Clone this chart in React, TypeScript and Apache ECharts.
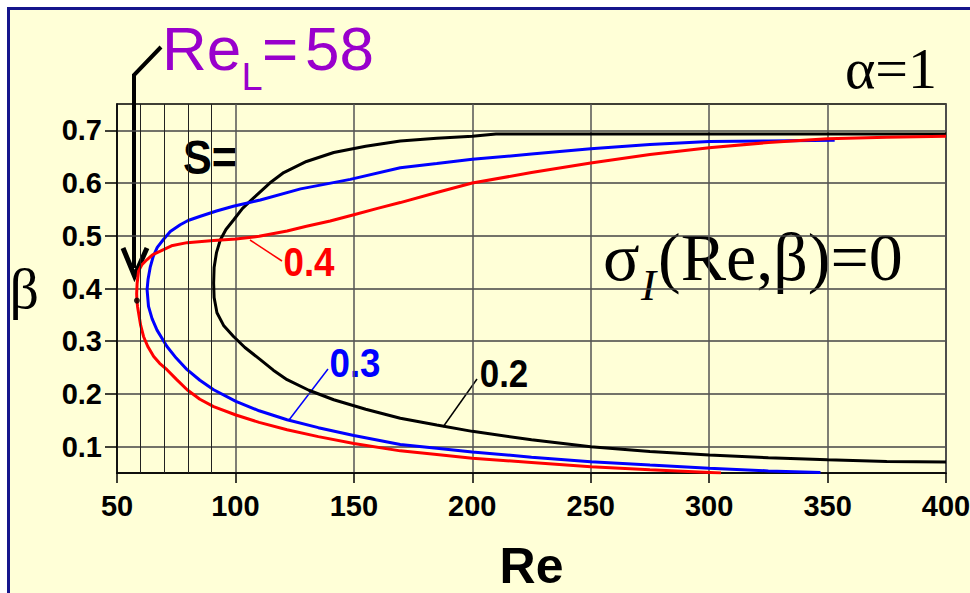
import React, { useEffect, useRef } from "react";
import * as echarts from "echarts";

// ---- axis values ----
const betaTicks = [0.1, 0.2, 0.3, 0.4, 0.5, 0.6, 0.7];
const minorGridRe = [60, 70, 80, 90];

// ---- curve S = 0.2 (black) ----
const reS02 = [400, 350, 300, 250, 210, 200, 185, 169.6, 155, 141.5, 130, 120.4, 114.5, 107.7, 103, 99.2, 96, 93.6, 92, 91, 90.8, 91, 92.2, 95, 99.2, 104, 110.5, 116, 121.8, 131, 141.5, 155, 169.6, 185, 200, 225, 250, 275, 300, 325, 350, 375, 400];
const betaS02 = [0.693, 0.693, 0.693, 0.693, 0.693, 0.689, 0.685, 0.68, 0.67, 0.658, 0.641, 0.62, 0.6, 0.572, 0.552, 0.53, 0.512, 0.492, 0.468, 0.44, 0.41, 0.383, 0.354, 0.33, 0.309, 0.288, 0.265, 0.245, 0.227, 0.207, 0.189, 0.171, 0.154, 0.141, 0.129, 0.113, 0.1, 0.091, 0.084, 0.079, 0.075, 0.072, 0.071];

// ---- curve S = 0.3 (blue) ----
const reS03 = [353, 325, 300, 275, 250, 225, 200, 185, 169.6, 148.5, 127.5, 110.5, 99.1, 92, 85.2, 80, 76.7, 72.5, 69.6, 67, 65.3, 64, 63.1, 62.7, 63.3, 64.8, 66.9, 71.1, 75, 79.6, 85, 90.8, 100.2, 110, 121.8, 135, 150, 169.6, 185, 200, 225, 250, 275, 300, 325, 347];
const betaS03 = [0.681, 0.68, 0.679, 0.673, 0.665, 0.655, 0.645, 0.637, 0.629, 0.607, 0.589, 0.568, 0.556, 0.547, 0.537, 0.529, 0.521, 0.508, 0.493, 0.478, 0.461, 0.44, 0.417, 0.398, 0.366, 0.343, 0.321, 0.29, 0.268, 0.246, 0.226, 0.208, 0.186, 0.168, 0.151, 0.136, 0.121, 0.104, 0.097, 0.09, 0.08, 0.0715, 0.065, 0.059, 0.054, 0.051];

// ---- curve S = 0.4 (red) ----
const reS04 = [400, 375, 350, 325, 300, 275, 250, 225, 200, 185, 169.6, 160, 150, 140, 130, 121.8, 110, 100.2, 90.8, 79.6, 73, 68.3, 65, 62.7, 60.5, 59.1, 58.5, 58.3, 58.4, 58.7, 59.1, 60, 61.2, 63, 65.5, 68, 71.1, 75, 79.6, 85, 90.8, 100.2, 110, 121.8, 135, 150, 169.6, 185, 200, 225, 250, 275, 305];
const betaS04 = [0.689, 0.687, 0.684, 0.677, 0.667, 0.654, 0.638, 0.62, 0.6, 0.582, 0.563, 0.552, 0.54, 0.528, 0.518, 0.509, 0.499, 0.494, 0.491, 0.487, 0.481, 0.471, 0.464, 0.455, 0.445, 0.433, 0.41, 0.39, 0.377, 0.365, 0.354, 0.33, 0.309, 0.29, 0.271, 0.258, 0.246, 0.228, 0.208, 0.19, 0.176, 0.16, 0.146, 0.132, 0.119, 0.106, 0.092, 0.085, 0.078, 0.07, 0.062, 0.056, 0.05];

// ---- critical point Re_L ----
const criticalRe = [58.4];
const criticalBeta = [0.377];

const pairs = (xs: number[], ys: number[]) => xs.map((x, i) => [x, ys[i]]);

const SANS = "Liberation Sans";
const SERIF = "Liberation Serif";

const txt = (text: string, x: number, y: number, style: any, extra: any = {}) => ({
  type: "text",
  x,
  y,
  ...extra,
  style: { text, align: "left", verticalAlign: "middle", fill: "#000", ...style },
});

const option: any = {
  animation: false,
  grid: {
    left: 117,
    top: 104,
    width: 829,
    height: 369,
    outerBoundsMode: "none",
    containLabel: false,
    show: true,
    borderColor: "#000",
    borderWidth: 1.5,
    backgroundColor: "transparent",
  },
  xAxis: {
    type: "value",
    min: 50,
    max: 400,
    interval: 50,
    axisLine: { show: true, onZero: false, lineStyle: { color: "#000", width: 1.5 } },
    axisTick: { show: true, length: 10, lineStyle: { color: "#000", width: 1.5 } },
    axisLabel: { margin: 18, color: "#000", fontFamily: SANS, fontWeight: "bold", fontSize: 29 },
    splitLine: { show: true, lineStyle: { color: "#555", width: 1.5 } },
    name: "Re",
    nameLocation: "middle",
    nameGap: 68,
    nameTextStyle: { fontFamily: SANS, fontWeight: "bold", fontSize: 50, color: "#000" },
  },
  yAxis: {
    type: "value",
    min: 0.05,
    max: 0.75,
    axisLine: { show: true, onZero: false, lineStyle: { color: "#000", width: 1.5 } },
    axisTick: { show: true, length: 12, customValues: betaTicks, lineStyle: { color: "#000", width: 1.5 } },
    axisLabel: {
      customValues: betaTicks,
      formatter: (v: number) => v.toFixed(1),
      margin: 15,
      color: "#000",
      fontFamily: SANS,
      fontWeight: "bold",
      fontSize: 29,
    },
    splitLine: { show: true, lineStyle: { color: "#444", width: 1.5 } },
    name: "β",
    nameLocation: "middle",
    nameRotate: 0,
    nameGap: 78,
    nameTextStyle: { fontFamily: SERIF, fontSize: 58, color: "#000", padding: [16, 0, 0, 0] },
  },
  series: [
    {
      type: "line",
      data: [],
      z: 1,
      silent: true,
      markLine: {
        silent: true,
        symbol: ["none", "none"],
        label: { show: false },
        lineStyle: { color: "#222", width: 1, type: "solid" },
        data: minorGridRe.map((v) => ({ xAxis: v })),
      },
    },
    {
      type: "line",
      data: pairs(reS02, betaS02),
      showSymbol: false,
      lineStyle: { color: "#000", width: 3 },
      itemStyle: { color: "#000" },
    },
    {
      type: "line",
      data: pairs(reS03, betaS03),
      showSymbol: false,
      lineStyle: { color: "#0000ff", width: 3 },
      itemStyle: { color: "#0000ff" },
    },
    {
      type: "line",
      data: pairs(reS04, betaS04),
      showSymbol: false,
      lineStyle: { color: "#ff0000", width: 3 },
      itemStyle: { color: "#ff0000" },
    },
    {
      type: "scatter",
      data: pairs(criticalRe, criticalBeta),
      symbolSize: 6,
      itemStyle: { color: "#000" },
      z: 5,
    },
  ],
  graphic: [
    // Re_L = 58 title
    txt("Re", 162, 48, { fill: "#9900cc", fontSize: 62, fontFamily: SANS }),
    txt("L", 241.5, 77, { fill: "#9900cc", fontSize: 38, fontFamily: SANS }),
    txt("=", 262, 48, { fill: "#9900cc", fontSize: 62, fontFamily: SANS }),
    txt("58", 305, 48, { fill: "#9900cc", fontSize: 62, fontFamily: SANS }),
    // alpha
    txt("α=1", 937, 68, { fontSize: 58, fontFamily: SERIF, align: "right" }),
    // S=
    txt("S=", 210, 158, { fontSize: 48, fontFamily: SANS, fontWeight: "bold", align: "center" }, { scaleX: 0.9 }),
    // curve labels
    txt("0.4", 309, 262, { fill: "#ff0000", fontSize: 40, fontFamily: SANS, fontWeight: "bold", align: "center" }, { scaleX: 0.92 }),
    txt("0.3", 355, 363, { fill: "#0000ff", fontSize: 40, fontFamily: SANS, fontWeight: "bold", align: "center" }, { scaleX: 0.92 }),
    txt("0.2", 504, 374, { fill: "#000", fontSize: 38, fontFamily: SANS, fontWeight: "bold", align: "center" }, { scaleX: 0.92 }),
    // sigma_I(Re,beta)=0
    txt("σ", 603, 257, { fontSize: 68, fontFamily: SERIF }),
    txt("I", 641, 285, { fontSize: 45, fontFamily: SERIF, fontStyle: "italic" }),
    txt("(Re,β)=0", 658, 257, { fontSize: 68, fontFamily: SERIF }),
    // leader lines
    { type: "line", shape: { x1: 250, y1: 240, x2: 282, y2: 261 }, style: { stroke: "#ff0000", lineWidth: 1.5 } },
    { type: "line", shape: { x1: 289, y1: 420, x2: 328, y2: 369 }, style: { stroke: "#0000ff", lineWidth: 1.5 } },
    { type: "line", shape: { x1: 443, y1: 427, x2: 477, y2: 379 }, style: { stroke: "#000", lineWidth: 1.5 } },
    // arrow
    {
      type: "polyline",
      shape: { points: [[161, 47], [134, 75], [134, 268]] },
      style: { stroke: "#000", lineWidth: 4, fill: null },
    },
    {
      type: "polyline",
      shape: { points: [[123, 248], [134.5, 276], [147, 248]] },
      style: { stroke: "#000", lineWidth: 5, fill: null, lineJoin: "miter" },
    },
  ],
};

export default function App() {
  const ref = useRef<HTMLDivElement>(null);
  useEffect(() => {
    const chart = echarts.init(ref.current!, null, { renderer: "svg" });
    chart.setOption(option);
    return () => chart.dispose();
  }, []);
  return (
    <div style={{ position: "fixed", left: 0, top: 0, width: 970, height: 593, background: "#fff", overflow: "hidden" }}>
      <div
        style={{
          position: "absolute",
          left: 7,
          top: 7,
          width: 1000,
          height: 1000,
          background: "#ffffd7",
          borderLeft: "3px solid #15158c",
          borderTop: "3px solid #15158c",
        }}
      />
      <div ref={ref} style={{ position: "absolute", left: 0, top: 0, width: 970, height: 593 }} />
    </div>
  );
}
